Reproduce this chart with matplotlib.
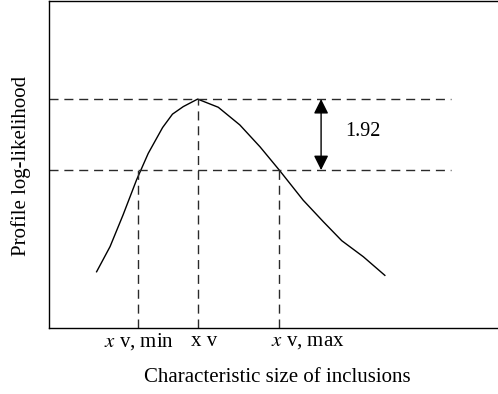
import numpy as np
import matplotlib
matplotlib.use('Agg')
import matplotlib.pyplot as plt

# profile log-likelihood curve (arbitrary units)
size_x = [1.06, 1.36, 1.65, 1.95, 2.21, 2.53, 2.75, 2.99, 3.31, 3.77,
          4.25, 4.70, 5.14, 5.66, 6.11, 6.52, 7.00, 7.48]
loglik = [1.72, 2.49, 3.46, 4.53, 5.34, 6.13, 6.54, 6.77, 7.00, 6.75,
          6.21, 5.54, 4.81, 3.91, 3.25, 2.67, 2.18, 1.61]

y_max = 7.00
y_cut = 4.83
x_min, x_hat, x_max = 1.99, 3.31, 5.13
delta_label = '1.92'

plt.rcParams['font.family'] = ['Liberation Serif', 'DejaVu Serif']

fig = plt.figure(figsize=(4.98, 3.94), dpi=100)
ax = fig.add_axes([0.0984, 0.1675, 0.9016, 0.830])
ax.set_xlim(0, 10)
ax.set_ylim(0, 10)

ax.plot(size_x, loglik, color='black', linewidth=1.0)

dash = dict(color='#2a2a2a', linewidth=1.0, dashes=(6.5, 4.2))
ax.plot([0, 8.95], [y_max, y_max], **dash)
ax.plot([0, 8.95], [y_cut, y_cut], **dash)
ax.plot([x_min, x_min], [0, y_cut], **dash)
ax.plot([x_hat, x_hat], [0, y_max], **dash)
ax.plot([x_max, x_max], [0, y_cut], **dash)

# 1.92 drop between the two levels
ax.annotate('', xy=(6.06, y_max), xytext=(6.06, y_cut),
            arrowprops=dict(arrowstyle='<|-|>', color='black', lw=1.0,
                            mutation_scale=22, shrinkA=0, shrinkB=0))
ax.text(6.59, 6.0, delta_label, fontsize=14.5, va='center', ha='left')

# labels under the axis
ax.text(2.00, -0.40, r'$\mathit{x}$ v, min', fontsize=15, ha='center', va='center',
        math_fontfamily='stix')
ax.text(3.46, -0.40, 'x v', fontsize=15, ha='center', va='center')
ax.text(5.77, -0.40, r'$\mathit{x}$ v, max', fontsize=15, ha='center', va='center',
        math_fontfamily='stix')

ax.set_xticks([])
ax.set_yticks([])
ax.spines['right'].set_visible(False)
for s in ['left', 'bottom', 'top']:
    ax.spines[s].set_linewidth(1.0)

fig.text(0.556, 0.043, 'Characteristic size of inclusions', fontsize=15,
         ha='center', va='center')
fig.text(0.043, 0.58, 'Profile log-likelihood', fontsize=15, rotation=90,
         ha='center', va='center')

fig.savefig('out.png', dpi=100)
